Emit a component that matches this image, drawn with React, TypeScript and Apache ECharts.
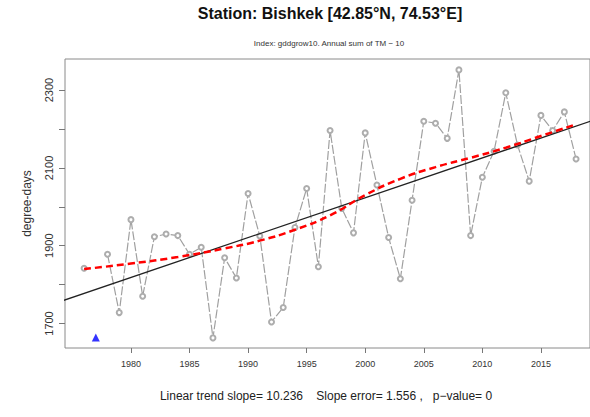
import React, { useEffect, useRef } from "react";
import * as echarts from "echarts";

const years = [
  1976, 1977, 1978, 1979, 1980, 1981, 1982, 1983, 1984, 1985, 1986, 1987, 1988, 1989,
  1990, 1991, 1992, 1993, 1994, 1995, 1996, 1997, 1998, 1999, 2000, 2001, 2002, 2003,
  2004, 2005, 2006, 2007, 2008, 2009, 2010, 2011, 2012, 2013, 2014, 2015, 2016, 2017, 2018,
];
const values: (number | null)[] = [
  1842, null, 1878, 1728, 1967, 1770, 1923, 1930, 1926, 1878, 1896, 1663, 1869, 1817,
  2034, 1925, 1704, 1741, 1947, 2047, 1846, 2196, 1996, 1933, 2190, 2056, 1921, 1815,
  2017, 2220, 2215, 2176, 2352, 1926, 2076, 2143, 2293, 2159, 2066, 2235, 2196, 2244, 2123,
];
const smoothYears = [1976, 1980, 1984, 1988, 1991, 1994, 1997, 2000, 2003, 2006, 2009, 2012, 2015, 2018];
const smoothValues = [1840, 1854, 1871, 1893, 1913, 1941, 1978, 2030, 2072, 2102, 2126, 2152, 2182, 2212];
const trendYears = [1974, 2020];
const trendValues = [1757, 2228];
const missingYears = [1977];
const missingMarkerValue = 1664;
const xTicks = [1980, 1985, 1990, 1995, 2000, 2005, 2010, 2015];
const yTicks = [1700, 1800, 1900, 2000, 2100, 2200, 2300];
const yLabels = [1700, 1900, 2100, 2300];

const titleText = "Station: Bishkek [42.85°N, 74.53°E]";
const subText = "Index: gddgrow10. Annual sum of TM − 10";
const footText = "Linear trend slope= 10.236    Slope error= 1.556 ,   p−value= 0";

const FONT = "Arial, 'Liberation Sans', Helvetica, sans-serif";

export default function App() {
  const ref = useRef<HTMLDivElement>(null);
  useEffect(() => {
    if (!ref.current) return;
    const chart = echarts.init(ref.current, undefined, { renderer: "svg" });
    chart.setOption({
      animation: false,
      backgroundColor: "#ffffff",
      title: [
        {
          text: titleText,
          left: 330,
          top: 5,
          padding: 0,
          textAlign: "center",
          textStyle: { fontFamily: FONT, fontSize: 16, fontWeight: "bold", color: "#111" },
        },
        {
          text: subText,
          left: 329,
          top: 39,
          padding: 0,
          textAlign: "center",
          textStyle: { fontFamily: FONT, fontSize: 8, fontWeight: "normal", color: "#333" },
        },
        {
          text: footText,
          left: 326,
          top: 390,
          padding: 0,
          textAlign: "center",
          textStyle: { fontFamily: FONT, fontSize: 12, fontWeight: "normal", color: "#222" },
        },
      ],
      grid: {
        left: 65,
        right: -2,
        top: 59,
        bottom: 69,
        show: true,
        borderColor: "#8a8a8a",
        borderWidth: 1,
        backgroundColor: "transparent",
      },
      xAxis: {
        type: "value",
        min: 1974.37,
        max: 2019.19,
        splitLine: { show: false },
        axisLine: { show: false },
        axisTick: {
          show: true,
          customValues: xTicks,
          length: 5,
          lineStyle: { color: "#777" },
        },
        axisLabel: {
          customValues: xTicks,
          formatter: (v: number) => String(v),
          margin: 11,
          fontFamily: FONT,
          fontSize: 9,
          color: "#333",
        },
      },
      yAxis: {
        type: "value",
        min: 1637,
        max: 2380,
        name: "degree-days",
        nameLocation: "middle",
        nameRotate: 90,
        nameGap: 32,
        nameTextStyle: { fontFamily: FONT, fontSize: 12, color: "#333" },
        splitLine: { show: false },
        axisLine: { show: false },
        axisTick: {
          show: true,
          customValues: yTicks,
          length: 6,
          lineStyle: { color: "#777" },
        },
        axisLabel: {
          customValues: yLabels,
          formatter: (v: number) => String(v),
          rotate: 90,
          margin: 11,
          fontFamily: FONT,
          fontSize: 11,
          color: "#333",
        },
      },
      series: [
        {
          type: "line",
          data: years.map((y, i) => [y, values[i]]),
          symbol: "emptyCircle",
          symbolSize: 5,
          showAllSymbol: true,
          connectNulls: false,
          itemStyle: { color: "#adadad", borderWidth: 0.9 },
          lineStyle: { color: "#a0a0a0", width: 1.2, type: [9, 2] },
          z: 2,
        },
        {
          type: "line",
          data: trendYears.map((y, i) => [y, trendValues[i]]),
          symbol: "none",
          lineStyle: { color: "#222", width: 1.3 },
          z: 3,
        },
        {
          type: "line",
          data: smoothYears.map((y, i) => [y, smoothValues[i]]),
          smooth: true,
          symbol: "none",
          lineStyle: { color: "#ff0000", width: 2.5, type: [7, 4] },
          z: 4,
        },
        {
          type: "scatter",
          data: missingYears.map((y) => [y, missingMarkerValue]),
          symbol: "triangle",
          symbolSize: 8,
          itemStyle: { color: "#0000ff" },
          z: 5,
        },
      ],
    });
    return () => chart.dispose();
  }, []);
  return <div ref={ref} style={{ width: 590, height: 417, position: "absolute", left: 0, top: 0 }} />;
}
